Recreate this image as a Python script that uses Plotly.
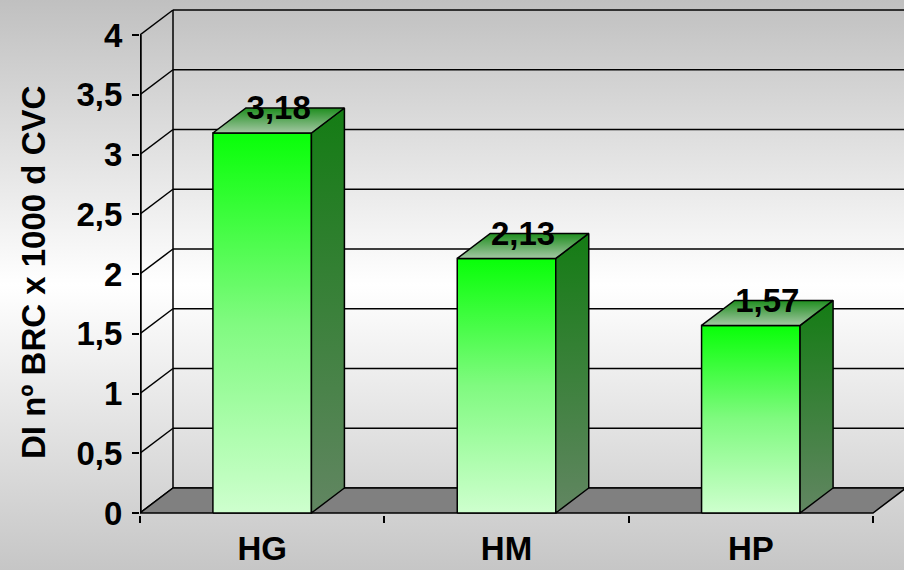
import plotly.graph_objects as go

# ---------------- data ----------------
categories = ["HG", "HM", "HP"]
values = [3.18, 2.13, 1.57]
value_labels = ["3,18", "2,13", "1,57"]
y_ticks = [0, 0.5, 1, 1.5, 2, 2.5, 3, 3.5, 4]
y_title = "DI nº BRC x 1000 d CVC"

# ---------------- geometry / style ----------------
W_PX, H_PX = 904, 570
PLOT_L, PLOT_R, PLOT_T, PLOT_B = 140, 904, 8, 515
Y0_PX = 513
PX_PER_CAT = 244.33
PX_PER_UNIT = 119.5
DX = 33 / PX_PER_CAT
DY = 25 / PX_PER_UNIT
LABEL_DROP = 3 / PX_PER_UNIT
HALF_W = 0.2016
FONT = "Liberation Sans, Arial, sans-serif"
FS = 33
LINE = dict(color="black", width=1.5)

x_range = [-0.5, -0.5 + (PLOT_R - PLOT_L) / PX_PER_CAT]
y_range = [-(PLOT_B - Y0_PX) / PX_PER_UNIT, (Y0_PX - PLOT_T) / PX_PER_UNIT]
y_top = max(y_ticks)
xl = -0.5
xr = len(categories) - 0.5

fig = go.Figure()

# page background gradient (full-paper subplot x/y)
fig.add_trace(go.Scatter(
    x=[0, 1, 1, 0, 0], y=[0, 0, 1, 1, 0], xaxis="x", yaxis="y",
    mode="lines", line=dict(width=0), fill="toself",
    fillgradient=dict(type="vertical",
                      colorscale=[[0, "#c6c6c6"], [0.5, "#ffffff"], [1, "#c0c0c0"]]),
    hoverinfo="skip", showlegend=False))

# back-wall gridlines + side wall diagonals
gx, gy = [], []
for t in y_ticks:
    gx += [xl + DX, x_range[1] + 0.2, None, xl, xl + DX, None]
    gy += [t + DY, t + DY, None, t, t + DY, None]
fig.add_trace(go.Scatter(x=gx, y=gy, xaxis="x2", yaxis="y2", mode="lines",
                         line=LINE, hoverinfo="skip", showlegend=False))
# wall verticals
fig.add_trace(go.Scatter(x=[xl + DX, xl + DX], y=[DY, y_top + DY], xaxis="x2", yaxis="y2",
                         mode="lines", line=LINE, hoverinfo="skip", showlegend=False))
fig.add_trace(go.Scatter(x=[xl, xl], y=[0, y_top], xaxis="x2", yaxis="y2",
                         mode="lines", line=dict(color="black", width=3.5),
                         hoverinfo="skip", showlegend=False))

# floor
fig.add_trace(go.Scatter(
    x=[xl, xr, xr + DX, xl + DX, xl], y=[0, 0, DY, DY, 0], xaxis="x2", yaxis="y2",
    mode="lines", line=LINE, fill="toself", fillcolor="#808080",
    hoverinfo="skip", showlegend=False))

# bars
for i, v in enumerate(values):
    a, b = i - HALF_W, i + HALF_W
    # front face
    fig.add_trace(go.Scatter(
        x=[a, b, b, a, a], y=[0, 0, v, v, 0], xaxis="x2", yaxis="y2",
        mode="lines", line=LINE, fill="toself",
        fillgradient=dict(type="vertical",
                          colorscale=[[0, "#ceffce"], [0.5, "#80fa80"], [1, "#08ff08"]]),
        hoverinfo="skip", showlegend=False))
    # side face
    fig.add_trace(go.Scatter(
        x=[b, b + DX, b + DX, b, b], y=[0, DY, v + DY, v, 0], xaxis="x2", yaxis="y2",
        mode="lines", line=LINE, fill="toself",
        fillgradient=dict(type="vertical",
                          colorscale=[[0, "#628662"], [1, "#147c14"]]),
        hoverinfo="skip", showlegend=False))
    # top face
    fig.add_trace(go.Scatter(
        x=[a, b, b + DX, a + DX, a], y=[v, v, v + DY, v + DY, v], xaxis="x2", yaxis="y2",
        mode="lines", line=LINE, fill="toself",
        fillgradient=dict(type="vertical",
                          colorscale=[[0, "#a4c8a4"], [1, "#1f8e1f"]]),
        hoverinfo="skip", showlegend=False))

# data labels
fig.add_trace(go.Scatter(
    x=[i + DX / 2 for i in range(len(values))], y=[v + DY - LABEL_DROP for v in values],
    xaxis="x2", yaxis="y2", mode="text", text=value_labels,
    textposition="middle center", cliponaxis=False,
    textfont=dict(family=FONT, size=FS, color="black", weight="bold"),
    hoverinfo="skip", showlegend=False))

fig.add_annotation(
    text=y_title, xref="paper", yref="paper", x=34 / W_PX, y=1 - 273 / H_PX,
    xanchor="center", yanchor="middle", textangle=-90, showarrow=False,
    font=dict(family=FONT, size=FS, color="black", weight="bold"))

tickfont = dict(family=FONT, size=FS, color="black", weight="bold")
fig.update_layout(
    width=W_PX, height=H_PX, autosize=False,
    margin=dict(l=0, r=0, t=0, b=0, pad=0, autoexpand=False),
    paper_bgcolor="white", plot_bgcolor="rgba(0,0,0,0)",
    showlegend=False, hovermode=False, separators=", ",
    xaxis=dict(domain=[0, 1], range=[0, 1], visible=False, fixedrange=True),
    yaxis=dict(domain=[0, 1], range=[0, 1], visible=False, fixedrange=True),
    xaxis2=dict(domain=[PLOT_L / W_PX, 1], range=x_range, anchor="y2",
                tickmode="array", tickvals=list(range(len(categories))), ticktext=categories,
                ticks="", showgrid=False, zeroline=False, showline=False,
                minor=dict(tickmode="array", tickvals=[k - 0.5 for k in range(len(categories) + 1)],
                           ticks="outside", ticklen=7, tickwidth=1.5, tickcolor="black",
                           showgrid=False),
                ticklabelstandoff=11, automargin=False,
                tickfont=tickfont, fixedrange=True),
    yaxis2=dict(domain=[(H_PX - PLOT_B) / H_PX, (H_PX - PLOT_T) / H_PX], range=y_range,
                anchor="x2", tickmode="array", tickvals=y_ticks,
                ticks="outside", ticklen=7, tickwidth=1.5, tickcolor="black",
                showgrid=False, zeroline=False, showline=False,
                ticklabelstandoff=3, automargin=False,
                tickfont=tickfont, fixedrange=True),
)

fig.write_html(
    "out.html",
    config={"displayModeBar": False},
    post_script="document.body.style.margin='0';document.body.style.overflow='hidden';",
)
